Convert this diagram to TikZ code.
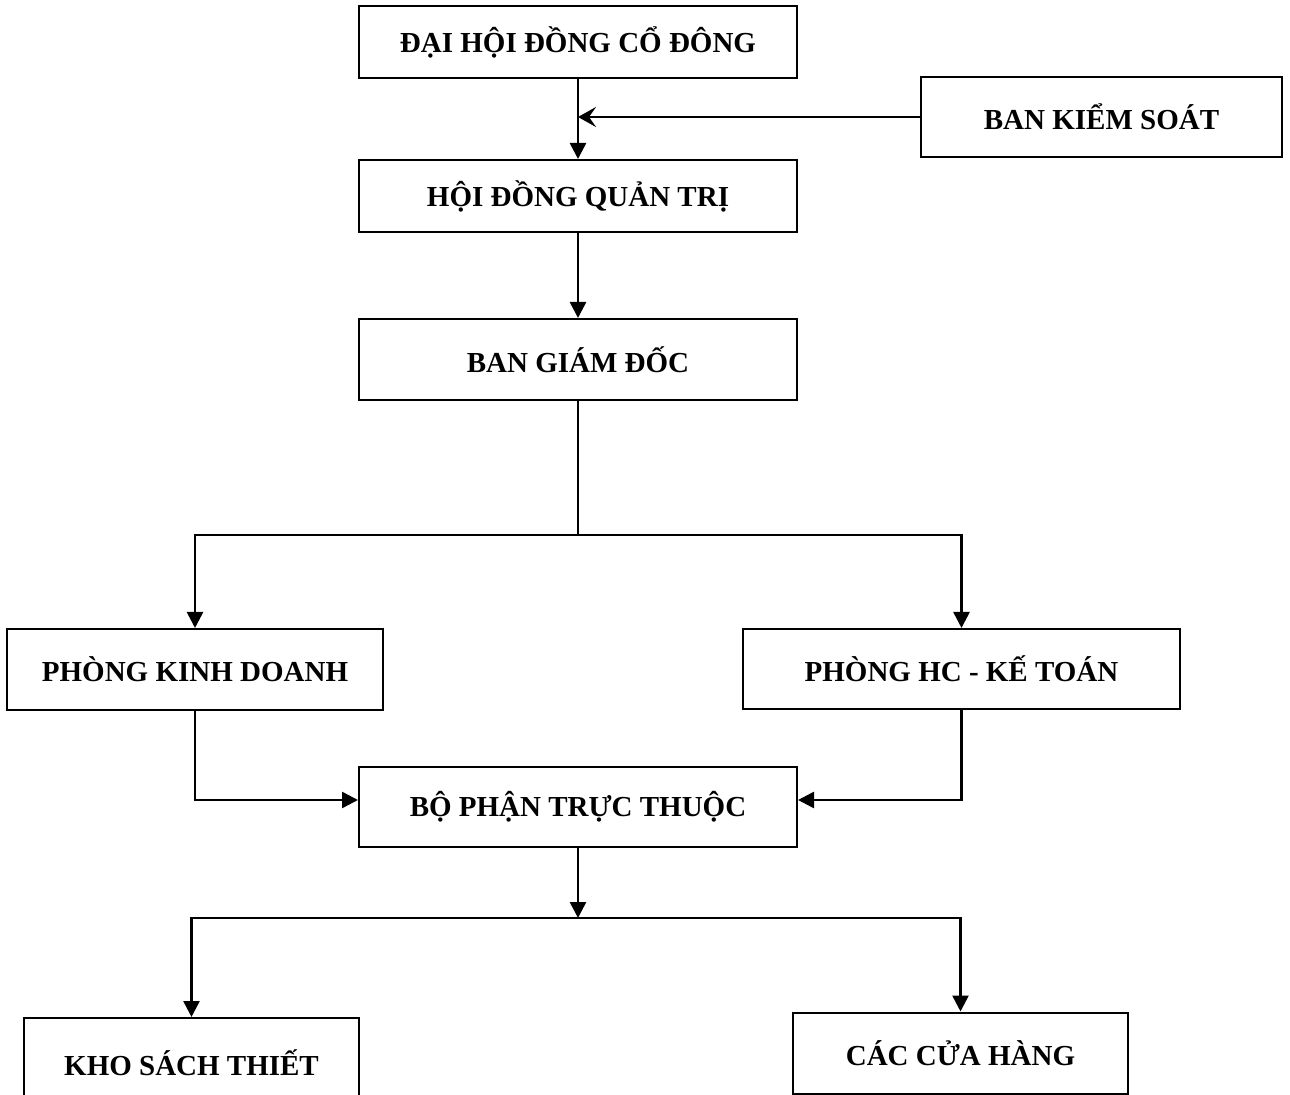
\documentclass[tikz,border=0pt]{standalone}
\usepackage{fontspec}
\setmainfont{Liberation Serif}
\usepackage{tikz}
\usetikzlibrary{arrows.meta, positioning, calc}

\begin{document}
\begin{tikzpicture}[
    x=0.5pt, y=-0.5pt,
    every node/.style={font=\fontsize{14.5}{17}\selectfont\bfseries},
    box/.style={rectangle, draw=black, line width=1pt, inner sep=0pt,
                align=center, minimum width=219pt},
    arrow/.style={-{Triangle[length=8pt, width=8pt]}, line width=1.3pt},
    line/.style={line width=1.3pt}
]
\useasboundingbox (0,0) rectangle (1290,1095);

% Top levels
\node[box, minimum height=36pt] (dhdcd) at (578,42) {ĐẠI HỘI ĐỒNG CỔ ĐÔNG};
\node[box, minimum width=180.5pt, minimum height=40pt] (bks) at (1101.5,117) {BAN KIỂM SOÁT};
\node[box, minimum height=36pt] (hdqt) at (578,196) {HỘI ĐỒNG QUẢN TRỊ};
\node[box, minimum height=40.5pt] (bgd) at (578,359.5) {BAN GIÁM ĐỐC};

% Departments
\node[box, minimum width=188pt, minimum height=40.5pt] (pkd) at (195,669.5) {PHÒNG KINH DOANH};
\node[box, minimum width=218.5pt, minimum height=40pt] (phc) at (961.5,669) {PHÒNG HC - KẾ TOÁN};
\node[box, minimum height=40pt] (bptt) at (578,807) {BỘ PHẬN TRỰC THUỘC};

% Units
\node[box, minimum width=167.5pt, minimum height=45pt] (kho) at (191.5,1063) {KHO SÁCH THIẾT};
\node[box, minimum width=167.5pt, minimum height=40.5pt] (cac) at (960.5,1053) {CÁC CỬA HÀNG};

% Branch points
\coordinate (b1) at (578,535);
\coordinate (b2) at (578,918);

% Arrows
\draw[arrow] (dhdcd) -- (hdqt);
\draw[-{Stealth[length=9pt, width=10pt, inset=3.5pt]}, line width=1.3pt] (bks.west) -- (bks.west -| dhdcd.south);
\draw[arrow] (hdqt) -- (bgd);
\draw[line] (bgd) -- (b1);
\draw[arrow] (b1) -| (pkd);
\draw[arrow] (b1) -| (phc);
\draw[arrow] (pkd.south) |- ([yshift=3.5pt]bptt.west);
\draw[arrow] (phc.south) |- ([yshift=3.5pt]bptt.east);
\draw[arrow] (bptt) -- (b2);
\draw[arrow] (b2) -| (kho);
\draw[arrow] (b2) -| (cac);

\end{tikzpicture}
\end{document}
